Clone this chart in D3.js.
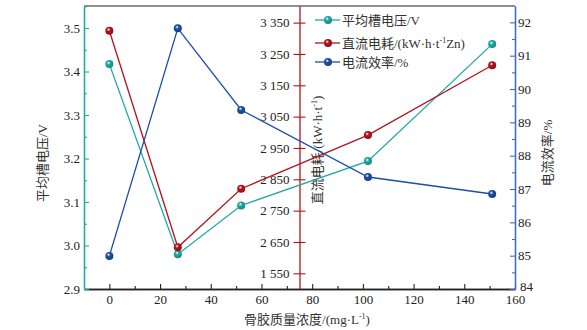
<!DOCTYPE html>
<html><head><meta charset="utf-8">
<script src="https://cdn.jsdelivr.net/npm/d3@7"></script>
<style>
body{margin:0;background:#fff;}
text{font-family:"Liberation Serif","Noto Sans CJK SC",serif;}
</style></head>
<body><svg id="c" width="587" height="330"></svg>
<script>
// ---- data ----
const glueConc = [0, 27, 52, 102, 151];
const avgVoltage = [3.417, 2.980, 3.092, 3.194, 3.463];
const dcEnergy = [3324, 2633, 2820, 2991, 3214];
const currentEff = [84.99, 91.82, 89.37, 87.36, 86.85];

const xMajorTicks = [0, 20, 40, 60, 80, 100, 120, 140, 160];
const xMinorTicks = [10, 30, 50, 70, 90, 110, 130, 150];
const vTicks = [2.9, 3.0, 3.1, 3.2, 3.3, 3.4, 3.5];
const vTickLabels = ["2.9", "3.0", "3.1", "3.2", "3.3", "3.4", "3.5"];
const vMinorTicks = [2.95, 3.05, 3.15, 3.25, 3.35, 3.45, 3.55];
const eTicks = [2550, 2650, 2750, 2850, 2950, 3050, 3150, 3250, 3350];
const eTickLabels = ["1 550", "2 650", "2 750", "2 850", "2 950", "3 050", "3 150", "3 250", "3 350"];
const effTicks = [84, 85, 86, 87, 88, 89, 90, 91, 92];
const effMinorTicks = [84.5, 85.5, 86.5, 87.5, 88.5, 89.5, 90.5, 91.5, 92.5];
const energyAxisAt = 75;

const seriesNames = ["平均槽电压/V", "直流电耗/(kW·h·t", "电流效率/%"];
const colors = {teal: "#1fa8a4", red: "#b3141c", blue: "#1d4ea6"};

// ---- layout ----
const L = 84, R = 515, T = 6, B = 289;
const svg = d3.select("#c");
const x = d3.scaleLinear([-10, 160], [L, R]);
const yV = d3.scaleLinear([2.9, 3.5506], [B, T]);
const yE = d3.scaleLinear([2500, 3403], [B, T]);
const yEff = d3.scaleLinear([84, 92.49], [B, T]);

// gradients for glossy markers
const defs = svg.append("defs");
[["teal", colors.teal], ["red", colors.red], ["blue", colors.blue]].forEach(([k, c]) => {
  const g = defs.append("radialGradient").attr("id", "g-" + k)
    .attr("cx", "40%").attr("cy", "35%").attr("r", "65%");
  g.append("stop").attr("offset", "0%").attr("stop-color", "#ffffff");
  g.append("stop").attr("offset", "35%").attr("stop-color", c);
  g.append("stop").attr("offset", "100%").attr("stop-color", d3.color(c).darker(0.6));
});

// top frame line
svg.append("line").attr("x1", L).attr("x2", R).attr("y1", T).attr("y2", T)
  .attr("stroke", "#222").attr("stroke-width", 1.2);

function styleAxis(g, color, fs) {
  g.selectAll(".domain").attr("stroke", color).attr("stroke-width", 1.3);
  g.selectAll(".tick line").attr("stroke", color).attr("stroke-width", 1.1);
  g.selectAll(".tick text").attr("fill", "#222").style("font-size", (fs || 13) + "px")
    .style("font-family", "'Liberation Serif',serif");
}

// bottom axis
const gxm = svg.append("g").attr("transform", `translate(0,${B})`)
  .call(d3.axisBottom(x).tickValues(xMinorTicks).tickSizeInner(-3).tickSizeOuter(0).tickFormat(""));
styleAxis(gxm, "#222");
const gx = svg.append("g").attr("transform", `translate(0,${B})`)
  .call(d3.axisBottom(x).tickValues(xMajorTicks).tickSizeInner(-5).tickSizeOuter(0).tickPadding(6).tickFormat(d3.format("d")));
styleAxis(gx, "#222");

// left axis (voltage)
const gvm = svg.append("g").attr("transform", `translate(${L},0)`)
  .call(d3.axisLeft(yV).tickValues(vMinorTicks.filter(v => v <= 3.55)).tickSizeInner(-3).tickSizeOuter(0).tickFormat(""));
styleAxis(gvm, colors.teal);
const gv = svg.append("g").attr("transform", `translate(${L},0)`)
  .call(d3.axisLeft(yV).tickValues(vTicks).tickSizeInner(-5).tickSizeOuter(0).tickPadding(4)
    .tickFormat((d, i) => vTickLabels[i]));
styleAxis(gv, colors.teal);

// right axis (efficiency)
const gfm = svg.append("g").attr("transform", `translate(${R},0)`)
  .call(d3.axisRight(yEff).tickValues(effMinorTicks.filter(v => v <= 92.49)).tickSizeInner(-3).tickSizeOuter(0).tickFormat(""));
styleAxis(gfm, "#3a6dc0");
const gf = svg.append("g").attr("transform", `translate(${R},0)`)
  .call(d3.axisRight(yEff).tickValues(effTicks).tickSizeInner(-5).tickSizeOuter(0).tickPadding(3).tickFormat(d3.format("d")));
styleAxis(gf, "#3a6dc0");
gf.selectAll(".tick text").filter(d => d === 84).attr("x", 5).attr("dy", "0.1em");

// middle axis (energy)
const ge = svg.append("g").attr("transform", `translate(${x(energyAxisAt)},0)`)
  .call(d3.axisLeft(yE).tickValues(eTicks).tickSize(6).tickSizeOuter(0).tickPadding(4)
    .tickFormat((d, i) => eTickLabels[i]));
ge.selectAll(".tick line").attr("x1", 6);
styleAxis(ge, colors.red);

// axis titles
svg.append("text").attr("transform", `translate(47,163) rotate(-90)`)
  .attr("text-anchor", "middle").attr("fill", "#333").style("font-size", "13px")
  .text("平均槽电压/V");
const et = svg.append("text").attr("transform", `translate(322,150) rotate(-90)`)
  .attr("text-anchor", "middle").attr("fill", "#333").style("font-size", "13px");
et.append("tspan").text("直流电耗/(kW·h·t");
et.append("tspan").attr("dy", -5).style("font-size", "8px").text("-1");
et.append("tspan").attr("dy", 5).text(")");
svg.append("text").attr("transform", `translate(552,153) rotate(-90)`)
  .attr("text-anchor", "middle").attr("fill", "#333").style("font-size", "13px")
  .text("电流效率/%");
const xt = svg.append("text").attr("x", 307).attr("y", 324)
  .attr("text-anchor", "middle").attr("fill", "#333").style("font-size", "13px");
xt.append("tspan").text("骨胶质量浓度/(mg·L");
xt.append("tspan").attr("dy", -5).style("font-size", "8px").text("-1");
xt.append("tspan").attr("dy", 5).text(")");

// series
const series = [
  {vals: avgVoltage, y: yV, color: colors.teal, key: "teal"},
  {vals: dcEnergy, y: yE, color: colors.red, key: "red"},
  {vals: currentEff, y: yEff, color: colors.blue, key: "blue"}
];
series.forEach(s => {
  const pts = glueConc.map((gx, i) => [x(gx), s.y(s.vals[i])]);
  svg.append("path").attr("d", d3.line()(pts)).attr("fill", "none")
    .attr("stroke", s.color).attr("stroke-width", 1.3);
  svg.selectAll(null).data(pts).enter().append("circle")
    .attr("cx", d => d[0]).attr("cy", d => d[1]).attr("r", 4)
    .attr("fill", `url(#g-${s.key})`);
});

// legend
const legendRows = [20, 43, 62];
series.forEach((s, i) => {
  const gy = legendRows[i];
  svg.append("line").attr("x1", 315).attr("x2", 340).attr("y1", gy).attr("y2", gy)
    .attr("stroke", s.color).attr("stroke-width", 1.3);
  svg.append("circle").attr("cx", 328).attr("cy", gy).attr("r", 4).attr("fill", `url(#g-${s.key})`);
  const t = svg.append("text").attr("x", 342).attr("y", gy + 4.5).attr("fill", "#333").style("font-size", "13px");
  t.append("tspan").text(seriesNames[i]);
  if (i === 1) {
    t.append("tspan").attr("dy", -5).style("font-size", "8px").text("-1");
    t.append("tspan").attr("dy", 5).text("Zn)");
  }
});
</script></body></html>
